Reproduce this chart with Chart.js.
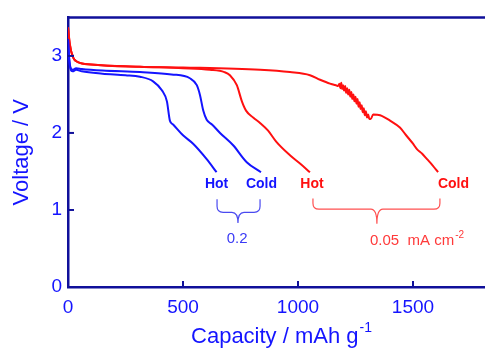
<!DOCTYPE html>
<html>
<head>
<meta charset="utf-8">
<script src="https://cdn.jsdelivr.net/npm/chart.js"></script>
<style>
  html, body { margin: 0; padding: 0; background: #fff; }
  canvas { display: block; }
</style>
</head>
<body>
<canvas id="chart" width="485" height="348"></canvas>
<script>
// capacity (mAh/g) and voltage (V)
const capHot02 = [0, 4, 10, 20, 35, 60, 150, 250, 313, 370, 409, 430, 443, 457, 500, 544, 603, 646];
const vHot02 = [3.22, 3.0, 2.84, 2.80, 2.82, 2.80, 2.77, 2.75, 2.73, 2.67, 2.55, 2.41, 2.16, 2.11, 1.97, 1.86, 1.66, 1.49];

const capCold02 = [0, 4, 10, 20, 35, 60, 150, 313, 450, 530, 560, 574, 588, 603, 626, 661, 718, 777, 839];
const vCold02 = [3.22, 3.0, 2.86, 2.82, 2.84, 2.83, 2.81, 2.79, 2.76, 2.71, 2.62, 2.49, 2.29, 2.17, 2.11, 2.00, 1.84, 1.62, 1.49];

const capHot005 = [0, 8, 22, 43, 100, 313, 500, 617, 680, 704, 734, 756, 774, 805, 835, 870, 907, 965, 1010, 1052];
const vHot005 = [3.37, 3.15, 2.98, 2.92, 2.89, 2.86, 2.84, 2.82, 2.79, 2.75, 2.62, 2.41, 2.29, 2.20, 2.13, 2.03, 1.88, 1.71, 1.60, 1.49];

const capCold005 = [0, 8, 22, 43, 100, 313, 500, 835, 965, 1052, 1096, 1139, 1165, 1174,
  1180, 1184, 1188, 1192, 1196, 1200, 1205, 1209, 1214, 1218, 1223, 1227, 1232, 1236, 1241,
  1245, 1250, 1254, 1259, 1263, 1268, 1272, 1277, 1281, 1286, 1290, 1295, 1300, 1305, 1310,
  1316, 1327, 1357, 1400, 1443, 1470, 1500, 1517, 1540, 1561, 1585, 1609];
const vCold005 = [3.37, 3.15, 2.98, 2.92, 2.89, 2.86, 2.85, 2.82, 2.79, 2.75, 2.69, 2.64, 2.62, 2.61,
  2.64, 2.58, 2.65, 2.57, 2.62, 2.55, 2.61, 2.52, 2.58, 2.50, 2.56, 2.47, 2.53, 2.44, 2.50,
  2.41, 2.47, 2.38, 2.44, 2.34, 2.40, 2.31, 2.36, 2.27, 2.32, 2.23, 2.28, 2.20, 2.24, 2.18,
  2.18, 2.24, 2.23, 2.16, 2.07, 1.97, 1.86, 1.79, 1.73, 1.66, 1.58, 1.49];

const xTicks = [0, 500, 1000, 1500];
const yTicks = [0, 1, 2, 3];

const BLUE = '#1414ff';
const RED = '#ff1010';
const AXIS = '#10109a';

// text labels and braces, placed in data units
const labels = [
  { text: 'Hot', x: 646, y: 1.33, color: BLUE, bold: true },
  { text: 'Cold', x: 841, y: 1.33, color: BLUE, bold: true },
  { text: 'Hot', x: 1061, y: 1.33, color: RED, bold: true },
  { text: 'Cold', x: 1676, y: 1.33, color: RED, bold: true }
];
const braces = [
  { x0: 648, x1: 835, xm: 739, top: 1.14, mid: 0.97, tip: 0.83, color: '#4a4af0' },
  { x0: 1065, x1: 1617, xm: 1343, top: 1.15, mid: 1.01, tip: 0.82, color: '#ff5050' }
];

const pts = (xs, ys) => xs.map((x, i) => ({ x: x, y: ys[i] }));

const frame = {
  id: 'frame',
  afterDraw(chart) {
    const ctx = chart.ctx;
    const a = chart.chartArea;
    const sx = chart.scales.x, sy = chart.scales.y;
    ctx.save();
    // top frame line
    ctx.strokeStyle = AXIS;
    ctx.lineWidth = 2.5;
    ctx.beginPath();
    ctx.moveTo(a.left - 1, a.top);
    ctx.lineTo(a.right, a.top);
    ctx.stroke();
    // inward ticks
    ctx.lineWidth = 2;
    xTicks.forEach(v => {
      if (v === 0) return;
      const p = sx.getPixelForValue(v);
      ctx.beginPath();
      ctx.moveTo(p, a.bottom);
      ctx.lineTo(p, a.bottom - 6);
      ctx.stroke();
    });
    yTicks.forEach(v => {
      if (v === 0) return;
      const p = sy.getPixelForValue(v);
      ctx.beginPath();
      ctx.moveTo(a.left, p);
      ctx.lineTo(a.left + 6, p);
      ctx.stroke();
    });

    // axis titles
    ctx.fillStyle = BLUE;
    ctx.font = '22px "Liberation Sans", Arial, sans-serif';
    ctx.textBaseline = 'middle';
    ctx.save();
    ctx.translate(22, (a.top + a.bottom) / 2);
    ctx.rotate(-Math.PI / 2);
    ctx.textAlign = 'center';
    ctx.fillText('Voltage / V', 0, 0);
    ctx.restore();

    const xt = 'Capacity / mAh g';
    const w1 = ctx.measureText(xt).width;
    ctx.font = '14px "Liberation Sans", Arial, sans-serif';
    const w2 = ctx.measureText('-1').width;
    const xs = 281 - (w1 + w2) / 2;
    ctx.font = '22px "Liberation Sans", Arial, sans-serif';
    ctx.textAlign = 'left';
    ctx.fillText(xt, xs, 337);
    ctx.font = '14px "Liberation Sans", Arial, sans-serif';
    ctx.fillText('-1', xs + w1 + 1, 328);

    // Hot / Cold labels
    labels.forEach(l => {
      ctx.fillStyle = l.color;
      ctx.font = (l.bold ? 'bold ' : '') + '14px "Liberation Sans", Arial, sans-serif';
      ctx.textAlign = 'center';
      ctx.fillText(l.text, sx.getPixelForValue(l.x), sy.getPixelForValue(l.y));
    });

    // braces
    ctx.lineWidth = 1.2;
    braces.forEach(b => {
      const x0 = sx.getPixelForValue(b.x0), x1 = sx.getPixelForValue(b.x1);
      const xm = sx.getPixelForValue(b.xm);
      const yt = sy.getPixelForValue(b.top), ym = sy.getPixelForValue(b.mid), yp = sy.getPixelForValue(b.tip);
      const r = 6;
      ctx.strokeStyle = b.color;
      ctx.beginPath();
      ctx.moveTo(x0, yt);
      ctx.lineTo(x0, ym - r);
      ctx.quadraticCurveTo(x0, ym, x0 + r, ym);
      ctx.lineTo(xm - r, ym);
      ctx.quadraticCurveTo(xm, ym, xm, yp);
      ctx.quadraticCurveTo(xm, ym, xm + r, ym);
      ctx.lineTo(x1 - r, ym);
      ctx.quadraticCurveTo(x1, ym, x1, ym - r);
      ctx.lineTo(x1, yt);
      ctx.stroke();
    });

    // current density labels
    ctx.font = '15px "Liberation Sans", Arial, sans-serif';
    ctx.fillStyle = '#3a3af5';
    ctx.textAlign = 'center';
    ctx.fillText('0.2', sx.getPixelForValue(735), sy.getPixelForValue(0.63));
    ctx.fillStyle = '#ff3a3a';
    ctx.textAlign = 'left';
    const lx = sx.getPixelForValue(1313), ly = sy.getPixelForValue(0.60);
    const t1 = '0.05  mA cm';
    ctx.fillText(t1, lx, ly);
    const tw = ctx.measureText(t1).width;
    ctx.font = '10px "Liberation Sans", Arial, sans-serif';
    ctx.fillText('-2', tw + lx + 1, ly - 6);
    ctx.restore();
  }
};

new Chart(document.getElementById('chart'), {
  type: 'line',
  data: {
    datasets: [
      { data: pts(capHot02, vHot02), borderColor: BLUE },
      { data: pts(capCold02, vCold02), borderColor: BLUE },
      { data: pts(capHot005, vHot005), borderColor: RED },
      { data: pts(capCold005, vCold005), borderColor: RED }
    ]
  },
  options: {
    responsive: false,
    animation: false,
    devicePixelRatio: 1,
    layout: { padding: { top: 13, right: 0, left: 0, bottom: 0 } },
    elements: {
      point: { radius: 0 },
      line: { borderWidth: 2, cubicInterpolationMode: 'monotone', fill: false }
    },
    plugins: { legend: { display: false }, tooltip: { enabled: false } },
    scales: {
      x: {
        type: 'linear',
        min: 0,
        max: 1813,
        afterFit: s => { s.height = 61; },
        afterBuildTicks: s => { s.ticks = xTicks.map(v => ({ value: v })); },
        grid: { display: false, drawTicks: false },
        border: { display: true, color: AXIS, width: 2.5 },
        ticks: {
          color: BLUE,
          padding: 9,
          maxRotation: 0,
          callback: v => String(v),
          font: { family: '"Liberation Sans", Arial, sans-serif', size: 19 }
        }
      },
      y: {
        type: 'linear',
        min: 0,
        max: 3.5,
        afterFit: s => { s.width = 68; },
        afterBuildTicks: s => { s.ticks = yTicks.map(v => ({ value: v })); },
        grid: { display: false, drawTicks: false },
        border: { display: true, color: AXIS, width: 2.5 },
        ticks: {
          color: BLUE,
          padding: 6,
          callback: v => String(v),
          font: { family: '"Liberation Sans", Arial, sans-serif', size: 19 }
        }
      }
    }
  },
  plugins: [frame]
});
</script>
</body>
</html>
